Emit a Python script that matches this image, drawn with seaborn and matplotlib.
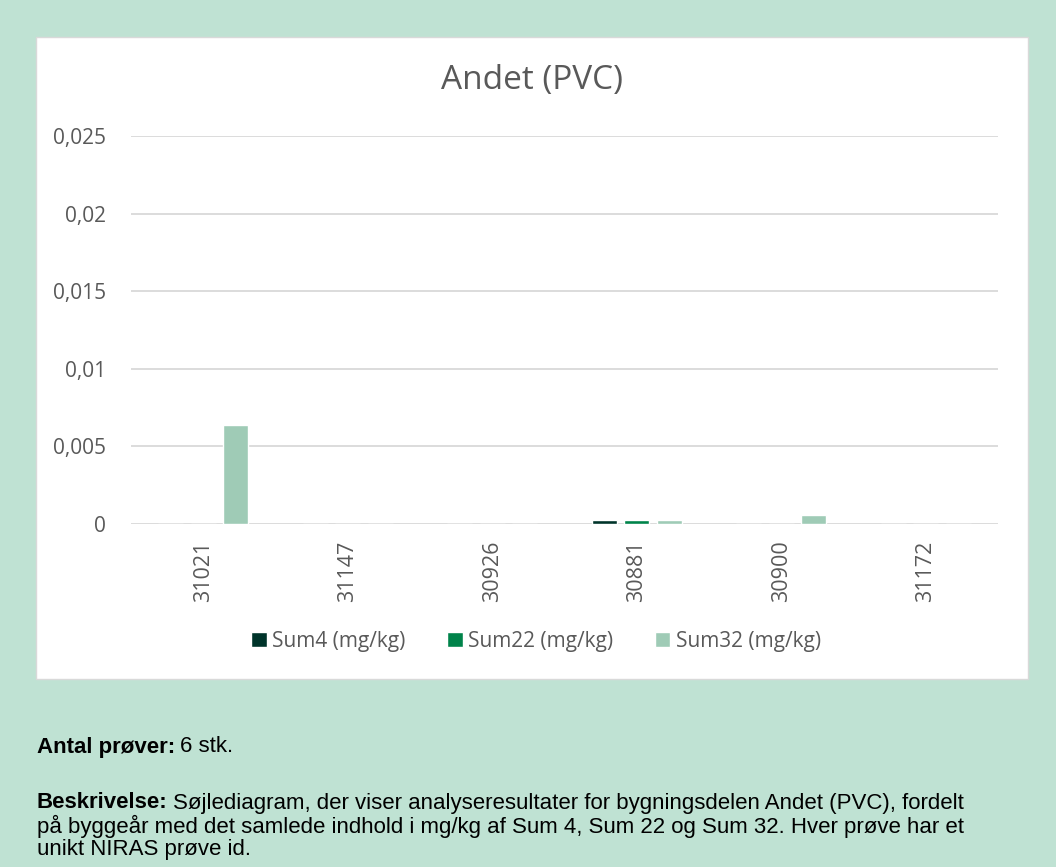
import matplotlib
matplotlib.use("Agg")
import matplotlib.pyplot as plt
import seaborn as sns
import pandas as pd
from matplotlib.patches import Rectangle
from matplotlib.ticker import FixedLocator, FuncFormatter

sample_ids = ["31021", "31147", "30926", "30881", "30900", "31172"]
sum4 = [0.0, 0.0, 0.0, 0.00025, 0.0, 0.0]
sum22 = [0.0, 0.0, 0.0, 0.00025, 0.0, 0.0]
sum32 = [0.0064, 0.0, 0.0, 0.00025, 0.0006, 0.0]
series_names = ["Sum4 (mg/kg)", "Sum22 (mg/kg)", "Sum32 (mg/kg)"]
colors = ["#00342A", "#00834A", "#9FCBB6"]
yticks = [0, 0.005, 0.01, 0.015, 0.02, 0.025]

rows = []
for name, vals in zip(series_names, [sum4, sum22, sum32]):
    for sid, v in zip(sample_ids, vals):
        rows.append({"id": sid, "serie": name, "value": v})
df = pd.DataFrame(rows)

sns.set_theme(style="white")
plt.rcParams["font.family"] = ["Open Sans", "DejaVu Sans"]

W, H = 1056, 867
fig = plt.figure(figsize=(W / 100, H / 100), dpi=100)
fig.patch.set_facecolor("#BFE2D3")

# white chart panel
fig.patches.append(Rectangle((36 / W, 1 - 679 / H), (1028 - 36) / W, (679 - 37) / H,
                             transform=fig.transFigure, facecolor="white",
                             edgecolor="#D9D9D9", linewidth=1.0, zorder=-5))

ax = fig.add_axes([131 / W, 1 - 524 / H, (998 - 131) / W, (524 - 136) / H])
ax.set_facecolor("white")
sns.barplot(data=df, x="id", y="value", hue="serie", palette=colors,
            order=sample_ids, hue_order=series_names, width=0.674, gap=0.23,
            ax=ax, legend=True, saturation=1)

ax.set_ylim(0, 0.025)
ax.yaxis.set_major_locator(FixedLocator(yticks))
ax.yaxis.set_major_formatter(FuncFormatter(lambda v, p: ("%g" % v).replace(".", ",")))
ax.grid(axis="y", color="#D9D9D9", linewidth=1.3)
ax.set_axisbelow(True)
for s in ax.spines.values():
    s.set_visible(False)
ax.set_xlabel("")
ax.set_ylabel("")
ax.tick_params(axis="y", labelsize=15, colors="#595959", length=0, pad=18)
ax.tick_params(axis="x", labelsize=15.5, colors="#595959", length=0, pad=12, rotation=90)

fig.text(532 / W, 1 - 80 / H, "Andet (PVC)", ha="center", va="center",
         fontsize=24, color="#595959")

handles, labels = ax.get_legend_handles_labels()
ax.get_legend().remove()
fig.legend(handles, labels, loc="center", bbox_to_anchor=(536 / W, 1 - 641 / H),
           ncol=3, frameon=False, fontsize=15, labelcolor="#595959",
           handlelength=0.75, handleheight=0.75, handletextpad=0.25, columnspacing=2.0)

fam = ["Liberation Sans", "DejaVu Sans"]
fs = 16
t1 = fig.text(37 / W, 1 - 747 / H, "Antal prøver:", ha="left", va="center",
              fontsize=fs, fontweight="bold", family=fam, color="black")
fig.canvas.draw()
bb = t1.get_window_extent()
fig.text((bb.x1 + 5) / W, 1 - 747 / H, "6 stk.", ha="left", va="center",
         fontsize=fs, family=fam, color="black")

t2 = fig.text(37 / W, 1 - 803 / H, "Beskrivelse:", ha="left", va="center",
              fontsize=fs, fontweight="bold", family=fam, color="black")
fig.canvas.draw()
bb2 = t2.get_window_extent()
fig.text((bb2.x1 + 5) / W, 1 - 803 / H,
         "Søjlediagram, der viser analyseresultater for bygningsdelen Andet (PVC), fordelt",
         ha="left", va="center", fontsize=fs, family=fam, color="black")
fig.text(37 / W, 1 - 826 / H,
         "på byggeår med det samlede indhold i mg/kg af Sum 4, Sum 22 og Sum 32. Hver prøve har et",
         ha="left", va="center", fontsize=fs, family=fam, color="black")
fig.text(37 / W, 1 - 849 / H, "unikt NIRAS prøve id.",
         ha="left", va="center", fontsize=fs, family=fam, color="black")

fig.savefig("out.png", dpi=100, facecolor=fig.get_facecolor())
